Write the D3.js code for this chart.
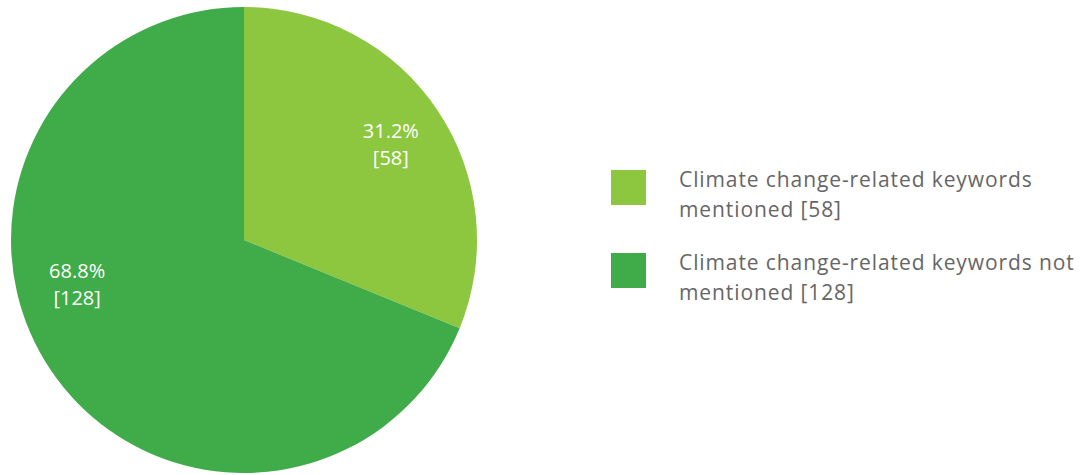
<!DOCTYPE html>
<html><head><meta charset="utf-8">
<script src="https://cdn.jsdelivr.net/npm/d3@7"></script>
<style>html,body{margin:0;padding:0;background:#fff;}svg{display:block;}</style>
</head><body>
<svg id="chart" width="1086" height="475"></svg>
<script>
const categories = ["Climate change-related keywords mentioned", "Climate change-related keywords not mentioned"];
const values = [58, 128];
const percentLabels = ["31.2%", "68.8%"];
const colors = ["#8DC63F", "#3FAB49"];

// layout
const cx = 244, cy = 240, r = 233;
const labelPlacement = [{rf: 0.737, da: 0.046}, {rf: 0.749, da: 0.294}];

const svg = d3.select("#chart");
const pie = d3.pie().sort(null).value(d => d)(values);
const arc = d3.arc().innerRadius(0).outerRadius(r);
const g = svg.append("g").attr("transform", `translate(${cx},${cy})`);
g.selectAll("path").data(pie).join("path")
  .attr("d", arc).attr("fill", (d, i) => colors[i]);

const lbl = g.selectAll("text.lbl").data(pie).join("text")
  .attr("class", "lbl")
  .attr("font-family", "'Open Sans', 'Liberation Sans', sans-serif")
  .attr("font-size", 20).attr("fill", "#fff").attr("text-anchor", "middle")
  .attr("transform", (d, i) => {
    const a = (d.startAngle + d.endAngle) / 2 + labelPlacement[i].da;
    const rr = r * labelPlacement[i].rf;
    return `translate(${rr * Math.sin(a)},${-rr * Math.cos(a)})`;
  });
lbl.append("tspan").attr("x", 0).attr("y", -13).text((d, i) => percentLabels[i]);
lbl.append("tspan").attr("x", 0).attr("y", 14).text((d, i) => `[${values[i]}]`);

// legend
const legendLines = [
  ["Climate change-related keywords", "mentioned [58]"],
  ["Climate change-related keywords not", "mentioned [128]"]
];
const lg = svg.append("g").attr("transform", "translate(611,170)");
const items = lg.selectAll("g").data(categories).join("g")
  .attr("transform", (d, i) => `translate(0,${i * 83})`);
items.append("rect").attr("width", 35).attr("height", 35).attr("fill", (d, i) => colors[i]);
const t = items.append("text")
  .attr("font-family", "'Open Sans', 'Noto Sans', sans-serif")
  .attr("font-size", 21).attr("letter-spacing", 0.9).attr("fill", "#666");
t.each(function(d, i) {
  const s = d3.select(this);
  legendLines[i].forEach((line, j) => {
    s.append("tspan").attr("x", 68).attr("y", 17 + j * 30).text(line);
  });
});
</script>
</body></html>
